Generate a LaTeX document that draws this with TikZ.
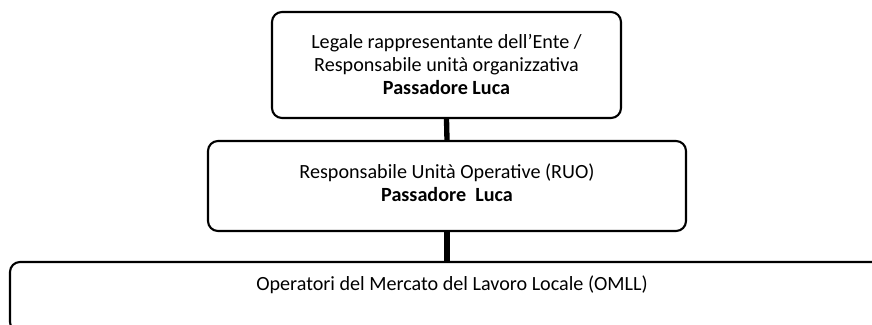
\documentclass[tikz,border=0pt]{standalone}
\usepackage{fontspec}
\setmainfont{Carlito}
\begin{document}
\begin{tikzpicture}[x=0.75pt,y=-0.75pt,
  box/.style={draw=black,line width=1.6pt,rounded corners=7.5pt,fill=white,inner sep=0pt},
  txt/.style={align=center,font=\fontsize{15.1}{17.6}\selectfont,inner sep=0pt},
  conn/.style={draw=black,line width=4pt}]
\useasboundingbox (0,0) rectangle (872,325);
\clip (0,0) rectangle (872,325);
\fill[white] (0,0) rectangle (872,325);
\node[box,minimum width=261.75pt,minimum height=79.5pt] (top) at (446.5,65) {};
\node[box,minimum width=358.5pt,minimum height=67.5pt] (mid) at (447,186) {};
\node[box,minimum width=655.5pt,minimum height=52.5pt] (bot) at (447,297) {};
\draw[conn] (top.south) -- (mid.north);
\draw[conn] (mid.south) -- (bot.north);
\node[txt] (toptxt) at (446.5,64.5) {Legale rappresentante dell’Ente /\\Responsabile unità organizzativa\\\textbf{Passadore Luca}};
\node[txt] (midtxt) at (447,182.5) {Responsabile Unità Operative (RUO)\\\textbf{Passadore\ \ Luca}};
\node[txt] (bottxt) at (452,285) {Operatori del Mercato del Lavoro Locale (OMLL)};
\end{tikzpicture}
\end{document}
